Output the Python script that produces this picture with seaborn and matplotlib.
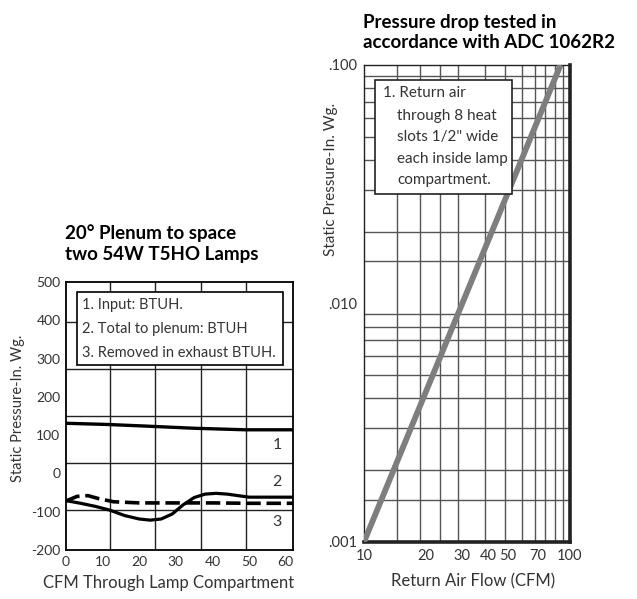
import numpy as np
import pandas as pd
import seaborn as sns
from matplotlib import pyplot as plt
from matplotlib.patches import Rectangle

# left chart: 20 deg plenum to space, two 54W T5HO lamps
cfm_input = [0, 11, 21, 35, 49, 62]
btuh_input = [131, 128, 124, 118, 114, 114]

cfm_plenum = [0, 3, 6, 9, 13, 20, 30, 40, 50, 62]
btuh_plenum = [-72, -60, -58, -66, -74, -77, -77, -77, -78, -78]

cfm_exhaust = [0, 4, 8, 12, 16, 20, 23, 26, 29, 32, 35, 38, 41, 44, 47, 50, 62]
btuh_exhaust = [-71, -78, -86, -96, -110, -119, -122, -119, -106, -82, -63, -54, -52, -54, -58, -62, -62]

plenum_xticks = [0, 10, 20, 30, 40, 50, 60]
plenum_yticks = [-200, -100, 0, 100, 200, 300, 400, 500]
plenum_grid_x = [12, 24.4, 36.8, 49.2]
plenum_grid_y = [-96, 27, 150, 272, 395]
plenum_notes = ["1. Input: BTUH.", "2. Total to plenum: BTUH", "3. Removed in exhaust BTUH."]

# right chart: pressure drop (ADC 1062R2)
return_cfm = [10, 90]
return_pressure = [0.001, 0.100]

flow_ticks = [10, 20, 30, 40, 50, 70, 100]
pressure_ticks = [0.001, 0.010, 0.100]
pressure_labels = [".001", ".010", ".100"]
flow_grid = [14.4, 18.7, 23.4, 28.6, 38.7, 48.3, 58.4, 67.6, 75.6, 84.6, 92.4]
pressure_grid = [m * d for d in (0.001, 0.01) for m in (1.5, 2, 3, 4, 5, 6, 7, 8, 9)]
return_notes = ["1. Return air", "through 8 heat", "slots 1/2\" wide",
                "each inside lamp", "compartment."]

sns.set_theme(style="white")
plt.rcParams['font.family'] = ['Lato', 'DejaVu Sans']
plt.rcParams['axes.unicode_minus'] = False
txt = "#333333"

fig = plt.figure(figsize=(6.37, 5.99), dpi=100)
ax1 = fig.add_axes([0.1036, 0.0818, 0.3564, 0.4474])
ax2 = fig.add_axes([0.5714, 0.0952, 0.3234, 0.7963])

# ---- left chart
sns.lineplot(x=cfm_input, y=btuh_input, ax=ax1, color="black", lw=2.4, zorder=4)
sns.lineplot(x=cfm_plenum, y=btuh_plenum, ax=ax1, color="black", lw=2.6,
             linestyle=(0, (4, 1.6)), zorder=4)
sns.lineplot(x=cfm_exhaust, y=btuh_exhaust, ax=ax1, color="black", lw=2.3, zorder=4)

ax1.set_xlim(0, 62)
ax1.set_ylim(-200, 500)
ax1.set_xticks(plenum_xticks)
ax1.set_yticks(plenum_yticks)
ax1.set_xticks(plenum_grid_x, minor=True)
ax1.set_yticks(plenum_grid_y, minor=True)
ax1.grid(which="minor", color="#222222", lw=1.0)
ax1.grid(which="major", visible=False)
ax1.tick_params(which="both", length=0, labelsize=10, labelcolor=txt, pad=4)
for s in ax1.spines.values():
    s.set_color("black")
    s.set_linewidth(1.3)

ax1.add_patch(Rectangle((0.048, 0.69), 0.908, 0.273, transform=ax1.transAxes,
                        facecolor="white", edgecolor="black", lw=1.2, zorder=5))
for note, yy in zip(plenum_notes, [0.914, 0.825, 0.735]):
    ax1.text(0.07, yy, note, transform=ax1.transAxes, fontsize=10.5, color=txt,
             va="center", ha="left", zorder=6)
for lab, yy in zip(["1", "2", "3"], [74, -22, -127]):
    ax1.text(57.7, yy, lab, fontsize=11.5, color=txt, ha="center", va="center", zorder=6)

ax1.set_xlabel("CFM Through Lamp Compartment", fontsize=12, color=txt)
ax1.xaxis.set_label_coords(0.45, -0.095)
ax1.set_ylabel("Static Pressure-In. Wg.", fontsize=10.5, color=txt)
ax1.yaxis.set_label_coords(-0.18, 0.53)
ax1.set_title("20° Plenum to space\ntwo 54W T5HO Lamps", loc="left", x=-0.005,
              fontsize=13.5, fontweight="bold", color="black", pad=16, linespacing=1.25)

# ---- right chart
ax2.set_xscale("log")
ax2.set_yscale("log")
sns.lineplot(x=return_cfm, y=return_pressure, ax=ax2, color="#7e7e80", lw=4.2,
             zorder=4, solid_capstyle="butt")
ax2.set_xlim(10, 100)
ax2.set_ylim(0.001, 0.100)
ax2.set_xticks(flow_ticks)
ax2.set_xticklabels([str(t) for t in flow_ticks])
ax2.set_yticks(pressure_ticks)
ax2.set_yticklabels(pressure_labels)
ax2.set_xticks(flow_grid, minor=True)
ax2.set_yticks(pressure_grid, minor=True)
ax2.xaxis.set_minor_formatter(plt.NullFormatter())
ax2.yaxis.set_minor_formatter(plt.NullFormatter())
ax2.grid(which="minor", color="#555555", lw=1.0)
ax2.grid(which="major", visible=False)
ax2.tick_params(which="both", length=0, labelsize=10.5, labelcolor=txt, pad=5)
ax2.spines["left"].set_linewidth(1.0)
ax2.spines["top"].set_linewidth(1.0)
ax2.spines["right"].set_linewidth(2.6)
ax2.spines["bottom"].set_linewidth(2.6)
for s in ax2.spines.values():
    s.set_color("#222222")

ax2.add_patch(Rectangle((0.053, 0.73), 0.665, 0.239, transform=ax2.transAxes,
                        facecolor="white", edgecolor="#222222", lw=1.2, zorder=5))
for i, (note, yy) in enumerate(zip(return_notes, [0.941, 0.893, 0.849, 0.803, 0.759])):
    ax2.text(0.092 if i == 0 else 0.16, yy, note, transform=ax2.transAxes,
             fontsize=11, color=txt, va="center", ha="left", zorder=6)

ax2.set_xlabel("Return Air Flow (CFM)", fontsize=12, color=txt)
ax2.xaxis.set_label_coords(0.53, -0.066)
ax2.set_ylabel("Static Pressure-In. Wg.", fontsize=11, color=txt)
ax2.yaxis.set_label_coords(-0.126, 0.76)
ax2.set_title("Pressure drop tested in\naccordance with ADC 1062R2", loc="left", x=-0.005,
              fontsize=13.5, fontweight="bold", color="black", pad=12, linespacing=1.25)

fig.savefig("out.png", dpi=100)
